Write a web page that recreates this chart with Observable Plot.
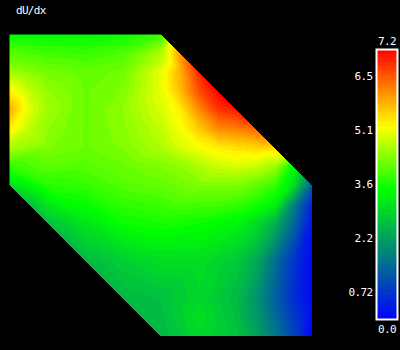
<!DOCTYPE html>
<html><head><meta charset="utf-8">
<script src="https://cdn.jsdelivr.net/npm/d3@7"></script>
<script src="https://cdn.jsdelivr.net/npm/@observablehq/plot@0.6"></script>
<style>
html,body{margin:0;padding:0;background:#000;}
#wrap{position:relative;width:400px;height:350px;background:#000;overflow:hidden;font-family:"DejaVu Sans Mono",monospace;}
#title{position:absolute;left:16px;top:4px;color:#fff;font-size:11px;letter-spacing:-0.7px;line-height:14px;}
#field{position:absolute;left:0;top:0;}
#bar{position:absolute;left:340px;top:0;}
</style></head><body>
<div id="wrap"><div id="field"></div><div id="bar"></div><div id="title">dU/dx</div></div>
<script>
// Sample values of dU/dx, row by row: [x, value]
const y2000 = [[0,3.4],[0.25,3.4],[0.5,3.4],[0.75,3.5],[1,3.8]];
const y1875 = [[0,4.0],[0.25,3.85],[0.5,3.8],[0.75,3.95],[1,4.6]];
const y1750 = [[0,4.5],[0.125,4.35],[0.25,4.2],[0.5,4.1],[0.75,4.2],[1,5.0],[1.125,5.8]];
const y1625 = [[0,5.2],[0.125,4.75],[0.25,4.4],[0.5,4.15],[0.75,4.3],[1,5.0],[1.125,5.7],[1.25,6.6]];
const y1500 = [[0,5.8],[0.125,4.95],[0.25,4.5],[0.5,4.15],[0.75,4.4],[1,4.9],[1.125,5.3],[1.25,6.1],[1.375,6.8]];
const y1375 = [[0,5.3],[0.125,4.75],[0.25,4.4],[0.5,4.15],[0.75,4.35],[1,4.75],[1.125,5.1],[1.25,5.6],[1.375,6.1],[1.5,6.2]];
const y1250 = [[0,4.6],[0.25,4.3],[0.5,4.15],[0.75,4.3],[1,4.6],[1.125,4.9],[1.25,5.1],[1.375,5.3],[1.5,5.4],[1.625,5.5]];
const y1125 = [[0,3.8],[0.25,4.05],[0.5,4.0],[0.75,4.15],[1,4.3],[1.125,4.4],[1.25,4.6],[1.375,4.8],[1.5,4.9],[1.625,4.8],[1.75,4.5]];
const y1000 = [[0,3.0],[0.25,3.7],[0.5,3.8],[0.75,4.0],[1,4.1],[1.25,4.3],[1.5,4.3],[1.625,4.1],[1.75,3.8],[1.875,3.0]];
const y0875 = [[0.125,2.6],[1.625,3.6],[1.75,3.3],[1.875,1.8],[2,0.4]];
const y0750 = [[0.25,2.6],[0.5,3.1],[0.75,3.5],[1,3.6],[1.25,3.5],[1.5,3.3],[1.625,3.0],[1.75,2.4],[1.875,1.4],[2,0.2]];
const y0625 = [[0.375,2.5]];
const y0500 = [[0.5,2.5],[0.75,2.8],[1,3.0],[1.25,3.0],[1.5,2.7],[1.625,2.3],[1.75,1.5],[1.875,0.7],[2,0.05]];
const y0375 = [[0.625,2.5]];
const y0250 = [[0.75,2.5],[1,2.6],[1.25,2.9],[1.5,2.5],[1.625,2.0],[1.75,1.3],[1.875,0.6],[2,0.05]];
const y0125 = [[0.875,2.5],[1.25,3.0]];
const y0000 = [[1,2.5],[1.25,2.9],[1.5,2.6],[1.625,2.2],[1.75,1.6],[1.875,0.9],[2,0.0]];
// Samples along the upper-right diagonal edge: [x, y, value]
const edgeNE = [[1.0625,1.9375,5.1],[1.125,1.875,6.0],[1.1875,1.8125,6.5],[1.25,1.75,6.9],
  [1.3125,1.6875,7.1],[1.375,1.625,7.2],[1.4375,1.5625,7.2],[1.5,1.5,7.0],[1.5625,1.4375,6.8],
  [1.625,1.375,6.4],[1.6875,1.3125,6.0],[1.75,1.25,5.5],[1.8125,1.1875,4.8],[1.875,1.125,3.4],
  [1.9375,1.0625,2.4],[2,1,1.2]];
const rowLevels = [[2,y2000],[1.875,y1875],[1.75,y1750],[1.625,y1625],[1.5,y1500],[1.375,y1375],
  [1.25,y1250],[1.125,y1125],[1,y1000],[0.875,y0875],[0.75,y0750],[0.625,y0625],[0.5,y0500],
  [0.375,y0375],[0.25,y0250],[0.125,y0125],[0,y0000]];

// Domain outline: hexagon cut from the square [0,2]x[0,2] (masks along x+y=3 and x+y=1)
const cutTopRight = [{x:0.9, lo:2.1, hi:2.1},{x:2.1, lo:0.9, hi:2.1}];
const cutBottomLeft = [{x:-0.1, lo:-0.1, hi:1.1},{x:1.1, lo:-0.1, hi:-0.1}];

// Colour bar
const valueMin = 0, valueMax = 7.2;
const stopValues = [0, 3.44, 5.15, 7.2];
const stopColors = ["#0000ff", "#00ff00", "#ffff00", "#ff0000"];
const tickValues = [0.72, 2.16, 3.6, 5.04, 6.48];
const tickLabels = ["0.72", "2.2", "3.6", "5.1", "6.5"];
const topLabel = [{v:7.2, t:"7.2"}];
const bottomLabel = [{v:0, t:"0.0"}];
const nBands = 64;

const samples = [];
for (const [y, row] of rowLevels) for (const [x, v] of row) samples.push({x, y, v});
for (const [x, y, v] of edgeNE) samples.push({x, y, v});

const lin = d3.scaleLinear().domain(stopValues).range(stopColors).interpolate(d3.interpolateRgb);
const thresholds = d3.range(1, nBands).map(i => valueMin + i * (valueMax - valueMin) / nBands);
const bandColors = d3.range(nBands).map(i => lin(valueMin + (i + 0.5) * (valueMax - valueMin) / nBands));
const colorScale = {type: "threshold", domain: thresholds, range: bandColors};

const field = Plot.plot({
  width: 400, height: 350,
  marginLeft: 9, marginRight: 88, marginTop: 34, marginBottom: 14,
  x: {domain: [0, 2], axis: null},
  y: {domain: [0, 2], axis: null},
  color: colorScale,
  style: {background: "#000"},
  marks: [
    Plot.raster(samples, {x: "x", y: "y", fill: "v", x1: 0, y1: 0, x2: 2, y2: 2,
      interpolate: "barycentric", pixelSize: 1, imageRendering: "pixelated", clip: true}),
    Plot.areaY(cutTopRight, {x: "x", y1: "lo", y2: "hi", fill: "#000", shapeRendering: "crispEdges"}),
    Plot.areaY(cutBottomLeft, {x: "x", y1: "lo", y2: "hi", fill: "#000", shapeRendering: "crispEdges"})
  ]
});
document.getElementById("field").appendChild(field);

const bar = Plot.plot({
  width: 60, height: 350,
  marginLeft: 36, marginRight: 3, marginTop: 49, marginBottom: 31,
  x: {domain: [0, 1], axis: null},
  y: {domain: [valueMin, valueMax], axis: "left", ticks: tickValues,
      tickFormat: d => tickLabels[tickValues.indexOf(d)], tickSize: 0, tickPadding: 4, label: null},
  color: colorScale,
  style: {background: "#000", color: "#fff", fontFamily: "DejaVu Sans Mono", fontSize: "11px", letterSpacing: "-0.6px"},
  marks: [
    Plot.raster({fill: (x, y) => y, x1: 0, x2: 1, y1: valueMin, y2: valueMax, pixelSize: 1}),
    Plot.frame({stroke: "#fff", strokeWidth: 2}),
    Plot.text(topLabel, {x: () => 0.5, y: "v", text: "t", dy: -8, fill: "#fff", lineAnchor: "middle"}),
    Plot.text(bottomLabel, {x: () => 0.5, y: "v", text: "t", dy: 10, fill: "#fff", lineAnchor: "middle"})
  ]
});
document.getElementById("bar").appendChild(bar);
</script>
</body></html>
